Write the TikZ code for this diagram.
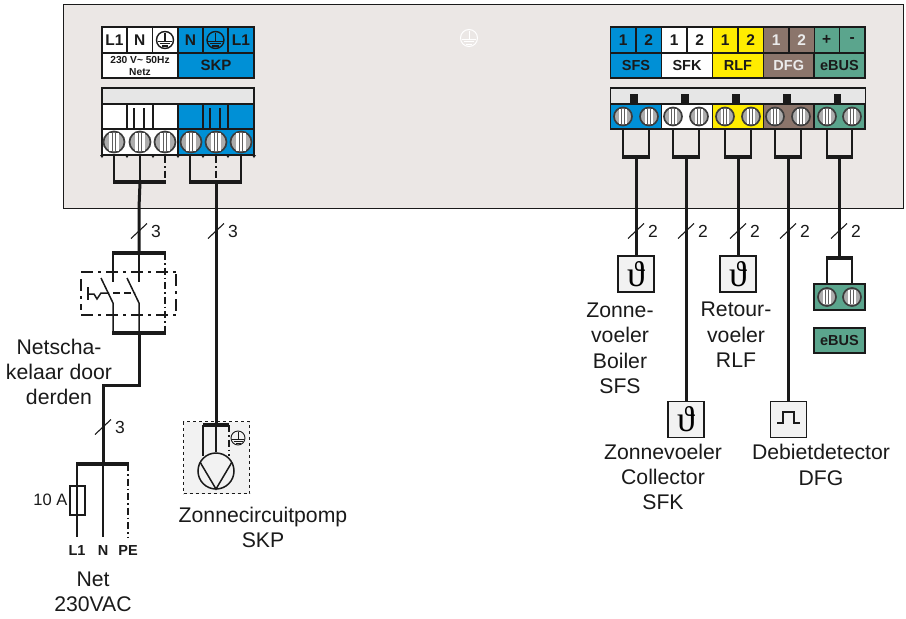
\documentclass[tikz,border=0pt]{standalone}
\usepackage{fontspec}
\setmainfont{Liberation Sans}
\newfontfamily\thetafont{Liberation Serif}
\usetikzlibrary{calc}
\definecolor{panel}{HTML}{EBE7E5}
\definecolor{strip}{HTML}{E6E6E6}
\definecolor{cblue}{HTML}{0090D6}
\definecolor{cyell}{HTML}{FFEC00}
\definecolor{cbrown}{HTML}{8B756B}
\definecolor{cgreen}{HTML}{5BA58D}
\definecolor{ink}{HTML}{1A1A1A}
\tikzset{
  cell/.style={draw=ink,line width=1.5pt,anchor=north west,inner sep=0pt,outer sep=0pt,font=\fontsize{14.5}{15}\selectfont\bfseries,text=ink},
  topc/.style={cell,font=\fontsize{15.5}{16}\selectfont\bfseries},
  wire/.style={draw=ink,line width=1.5pt},
  fat/.style={draw=ink,line width=3pt},
  bar/.style={draw=ink,line width=3.4pt},
  ddot/.style={draw=ink,line width=1.4pt,dash pattern=on 7pt off 3pt on 1.5pt off 3pt},
  sbox/.style={draw=ink,dash pattern=on 12pt off 5pt on 3pt off 5pt},
  screwc/.style={circle,draw=ink!85,fill=gray!65,line width=1.7pt,inner sep=0pt,outer sep=0pt},
  slash/.style={draw=ink,line width=1.1pt},
  lab/.style={align=center,inner sep=0pt,text=ink,font=\fontsize{21.2}{25.4}\selectfont},
  num/.style={inner sep=0pt,text=ink,font=\fontsize{17.5}{18}\selectfont},
  blab/.style={inner sep=0pt,text=ink,font=\fontsize{14.5}{15}\selectfont\bfseries},
  sensor/.style={draw=ink,fill=white!95!black,line width=1.4pt,minimum size=36pt,inner sep=0pt,outer sep=0pt,font=\fontsize{36}{36}\selectfont\thetafont},
}
\newcommand{\screwat}[4]{% name x y diameter
  \node[screwc,minimum size=#4pt] (#1) at (#2,#3) {};
  \begin{scope}[shift={(#2,#3)}]
    \fill[white] (-0.24*#4,-0.41*#4) rectangle (0.24*#4,0.41*#4);
    \draw[ink!70,line width=1pt] (-0.08*#4,-0.41*#4) -- (-0.08*#4,0.41*#4);
    \draw[ink!70,line width=1pt] (0.08*#4,-0.41*#4) -- (0.08*#4,0.41*#4);
  \end{scope}}
\newcommand{\earthsym}[6]{% name x y diameter colour width
  \node[circle,draw=#5,line width=#6pt,minimum size=#4pt,inner sep=0pt] (#1) at (#2,#3) {};
  \begin{scope}[shift={(#2,#3)},x=#4pt/14,y=-#4pt/14]
    \draw[#5,line width=#6pt] (0,-6) -- (0,1);
    \draw[#5,line width=#6pt] (-6,1) -- (6,1);
    \draw[#5,line width=#6pt] (-4.5,3) -- (4.5,3);
    \draw[#5,line width=#6pt] (-2.5,5) -- (2.5,5);
  \end{scope}}
\newcommand{\tick}[1]{\fill[ink] (#1-2,155) -- (#1+2,155) -- (#1,158) -- cycle;}
\begin{document}
\begin{tikzpicture}[x=1pt,y=-1pt]
\useasboundingbox (0,0) rectangle (906,619);
\fill[white] (0,0) rectangle (906,619);
% panel
\node[draw=ink,fill=panel,line width=1.3pt,anchor=north west,minimum width=840pt,minimum height=204pt,inner sep=0pt] (panel) at (63,4) {};
\earthsym{pe}{469}{38}{17}{white}{1}

% named points for wiring
\coordinate (barA) at (140,182);
\coordinate (barB) at (216,182);
\coordinate (sw) at (139,253);
\coordinate (swb) at (139,333);
\coordinate (jogA) at (139,385);
\coordinate (jogB) at (103,385);
\coordinate (netbar) at (103,464);
\coordinate (pumpbar) at (216,425);

% wires from the left terminals
\coordinate (tA1) at (114,142); \coordinate (tA2) at (140,142); \coordinate (tA3) at (165,142);
\coordinate (tB1) at (190,142); \coordinate (tB2) at (216,142); \coordinate (tB3) at (241,142);
\draw[wire] (tA1) -- (114,182);
\draw[wire] (tA2) -- (barA);
\draw[ddot] (165,156) -- (165,182);
\draw[wire] (tB1) -- (190,182);
\draw[wire] (tB3) -- (241,182);
\draw[ddot] (216,156) -- (barB);
\draw[bar] (113,182) -- (166,182);
\draw[bar] (189,182) -- (242,182);
\draw[fat] (barA) -- (139,208) -- (sw);
\draw[fat] (barB) -- (pumpbar);

% left top terminal labels
\node[cell,fill=white,minimum width=152pt,minimum height=51pt] (lefttop) at (102,27) {};
\node[topc,fill=white,minimum width=25pt,minimum height=26pt] (tL1) at (102,27) {L1};
\node[topc,fill=white,minimum width=25.5pt,minimum height=26pt] (tN) at (127,27) {N};
\node[topc,fill=white,minimum width=25.5pt,minimum height=26pt] (tPE) at (152.5,27) {};
\node[cell,fill=white,minimum width=76pt,minimum height=25pt,align=center,font=\fontsize{10.2}{12}\selectfont\bfseries] (netz) at (102,53) {230 V\symbol{126} 50Hz\\Netz};
\node[topc,fill=cblue,minimum width=25pt,minimum height=26pt] (bN) at (178,27) {N};
\node[topc,fill=cblue,minimum width=25pt,minimum height=26pt] (bPE) at (203,27) {};
\node[topc,fill=cblue,minimum width=26pt,minimum height=26pt] (bL1) at (228,27) {L1};
\node[cell,fill=cblue,minimum width=76pt,minimum height=25pt,font=\fontsize{15}{15}\selectfont\bfseries] (skp) at (178,53) {SKP};
\earthsym{e1}{165}{40}{17}{ink}{1.4}
\earthsym{e2}{215.5}{40}{17}{ink}{1.4}

% left terminal block
\node[cell,fill=strip,minimum width=152pt,minimum height=16pt] (lstrip) at (102,88) {};
\node[cell,fill=white,minimum width=76pt,minimum height=25pt] (wup) at (102,104) {};
\node[cell,fill=cblue,minimum width=76pt,minimum height=25pt] (bup) at (178,104) {};
\node[cell,fill=white,minimum width=76pt,minimum height=26pt] (wlow) at (102,129) {};
\node[cell,fill=cblue,minimum width=76pt,minimum height=26pt] (blow) at (178,129) {};
\foreach \xx in {127,153,203,228} \draw[ink,line width=1.3pt] (\xx,104) -- (\xx,129);
\foreach \xx in {134,144,210,220} \draw[ink,line width=1.1pt] (\xx,108) -- (\xx,129);
\foreach \xx in {102,127,153,178,203,228,254} {\tick{\xx}}
\screwat{sa1}{114}{142}{21}
\screwat{sa2}{140}{142}{21}
\screwat{sa3}{165}{142}{21}
\screwat{sb1}{191}{142}{21}
\screwat{sb2}{216}{142}{21}
\screwat{sb3}{241}{142}{21}

% right wires
\foreach \nm/\xa/\xb/\xc/\yy in {sfs/623/636/649/256,sfk/673/686/699/401,rlf/725/738/751/256,dfg/775/788/801/401,ebus/827/839/852/258}{
  \coordinate (t\nm a) at (\xa,120);
  \coordinate (t\nm b) at (\xc,120);
  \coordinate (m\nm) at (\xb,157);
  \coordinate (e\nm) at (\xb,\yy);
  \draw[wire] (t\nm a) -- (\xa,157);
  \draw[wire] (t\nm b) -- (\xc,157);
  \draw[bar] (\xa-1,157) -- (\xc+1,157);
  \draw[fat] (m\nm) -- (e\nm);
}

% right label block
\foreach \nm/\xx/\col/\txt/\ta/\tb in {sfs/610.5/cblue/SFS/1/2,sfk/661.5/white/SFK/1/2,rlf/712.5/cyell/RLF/1/2,ebus/814/cgreen/eBUS/+/-}{
  \node[topc,fill=\col,minimum width=25.5pt,minimum height=26pt] (\nm l) at (\xx,27) {\ta};
  \node[topc,fill=\col,minimum width=25.5pt,minimum height=26pt] (\nm r) at (\xx+25.5,27) {\tb};
  \node[cell,fill=\col,minimum width=51pt,minimum height=25pt] (\nm t) at (\xx,53) {\txt};
}
\node[topc,fill=cbrown,text=white!92!black,minimum width=25.5pt,minimum height=26pt] (dfgl) at (763.5,27) {1};
\node[topc,fill=cbrown,text=white!92!black,minimum width=25.5pt,minimum height=26pt] (dfgr) at (789,27) {2};
\node[cell,fill=cbrown,text=white!92!black,minimum width=50.5pt,minimum height=25pt] (dfgt) at (763.5,53) {DFG};

% right terminal block
\node[cell,fill=strip,minimum width=255pt,minimum height=16pt] (rstrip) at (610.5,88) {};
\foreach \nm/\xx/\xa/\xc/\col in {sfs/610.5/623/649/cblue,sfk/661.5/673/699/white,rlf/712.5/725/751/cyell,dfg/763.5/775/801/cbrown,ebus/814/827/852/cgreen}{
  \fill[ink] (\xx+19.5,94) rectangle (\xx+27,104);
  \node[cell,fill=\col,minimum width=51pt,minimum height=25pt] (r\nm) at (\xx,104) {};
  \screwat{s\nm a}{\xa}{116.5}{18}
  \screwat{s\nm b}{\xc}{116.5}{18}
}

% slashes and counts
\foreach \nm/\xx/\yy/\txt in {a/139/231/3,b/216/231/3,c/103/427/3,d/636/231/2,e/686/231/2,f/738/231/2,g/788/231/2,h/839/231/2}{
  \coordinate (sl\nm) at (\xx,\yy);
  \draw[slash] ($(sl\nm)+(-8,7.5)$) -- ($(sl\nm)+(8,-7.5)$);
  \node[num,anchor=west] (n\nm) at (\xx+12,\yy) {\txt};
}

% sensors
\node[sensor] (bsfs) at (636,274) {ϑ};
\node[sensor] (bsfk) at (686,419.5) {ϑ};
\node[sensor] (brlf) at (738,274) {ϑ};
\node[sensor] (bdfg) at (788.5,419.5) {};
\draw[ink,line width=2.2pt] (777,423) -- (783,423) -- (783,412) -- (794,412) -- (794,423) -- (800,423);

% eBUS connector
\draw[wire] (827,258) -- (827,284);
\draw[wire] (852,258) -- (852,284);
\draw[bar] (826,258) -- (853,258);
\node[cell,fill=cgreen,minimum width=51pt,minimum height=26pt] (econ) at (814,284) {};
\screwat{ec1}{827}{297}{18}
\screwat{ec2}{852}{297}{18}
\node[cell,fill=cgreen,minimum width=51pt,minimum height=25pt,font=\fontsize{14.5}{15}\selectfont\bfseries] (ebusb) at (814,328) {eBUS};

% switch
\draw[wire] (113,253) -- (113,282);
\draw[wire] (139,253) -- (139,282);
\draw[wire] (101,278) -- (113,303) -- (113,333);
\draw[wire] (127,278) -- (139,303) -- (139,333);
\draw[ddot] (165,253) -- (165,333);
\draw[bar] (112,253) -- (166,253);
\draw[bar] (112,333) -- (166,333);
\draw[sbox,line width=2.4pt] (81,272) -- (176,272);
\draw[sbox,line width=2.4pt] (81,315) -- (176,315);
\draw[sbox,line width=2.4pt] (81,279) -- (81,310);
\draw[sbox,line width=2.4pt] (176,274) -- (176,315);
\draw[wire] (88,287) -- (88,300);
\draw[wire] (88,294) -- (94,294) -- (97,299) -- (101,293) -- (109,293);
\draw[wire,dash pattern=on 7pt off 4pt] (113,293) -- (135,293);
\draw[fat] (swb) -- (jogA) -- (jogB) -- (netbar);

% net
\draw[bar] (76,464) -- (129,464);
\draw[wire] (77,464) -- (77,537);
\draw[wire] (103,464) -- (103,537);
\draw[ddot] (128,464) -- (128,537);
\node[draw=ink,fill=white,line width=1.3pt,minimum width=15pt,minimum height=29pt,inner sep=0pt] (fuse) at (77.5,500.5) {};
\draw[wire] (77,486) -- (77,515);
\node[num,anchor=east,font=\fontsize{16.5}{17}\selectfont] (a10) at (67.5,500) {10 A};
\node[blab] (nl1) at (77,551) {L1};
\node[blab] (nn) at (103,551) {N};
\node[blab] (npe) at (128,551) {PE};
\node[lab] (tnet) at (93,592) {Net\\230VAC};
\node[lab] (tsw) at (59,372) {Netscha-\\kelaar door\\derden};

% pump
\node[draw=ink,fill=white!95!black,dashed,line width=1.4pt,anchor=north west,minimum width=66pt,minimum height=72pt,inner sep=0pt] (pumpbox) at (183,421) {};
\draw[fat] (216,415) -- (pumpbar);
\node[circle,draw=ink,fill=white!95!black,line width=1.5pt,minimum size=36pt,inner sep=0pt] (pump) at (216,471) {};
\draw[wire] (203,425) -- (203,456);
\draw[wire] (pumpbar) -- (pump.north);
\draw[ddot,line width=1.2pt] (229,425) -- (229,456);
\draw[bar] (203,425) -- (229,425);
\draw[wire] (200,462) -- (216,489) -- (232,462);
\earthsym{e3}{238}{438}{14}{ink}{0.9}

% text
\node[lab] (tskp) at (263,527.5) {Zonnecircuitpomp\\SKP};
\node[lab] (tsfs) at (620,348.5) {Zonne-\\voeler\\Boiler\\SFS};
\node[lab] (trlf) at (736,335) {Retour-\\voeler\\RLF};
\node[lab] (tsfk) at (663,477) {Zonnevoeler\\Collector\\SFK};
\node[lab] (tdfg) at (821,465) {Debietdetector\\DFG};
\end{tikzpicture}
\end{document}
